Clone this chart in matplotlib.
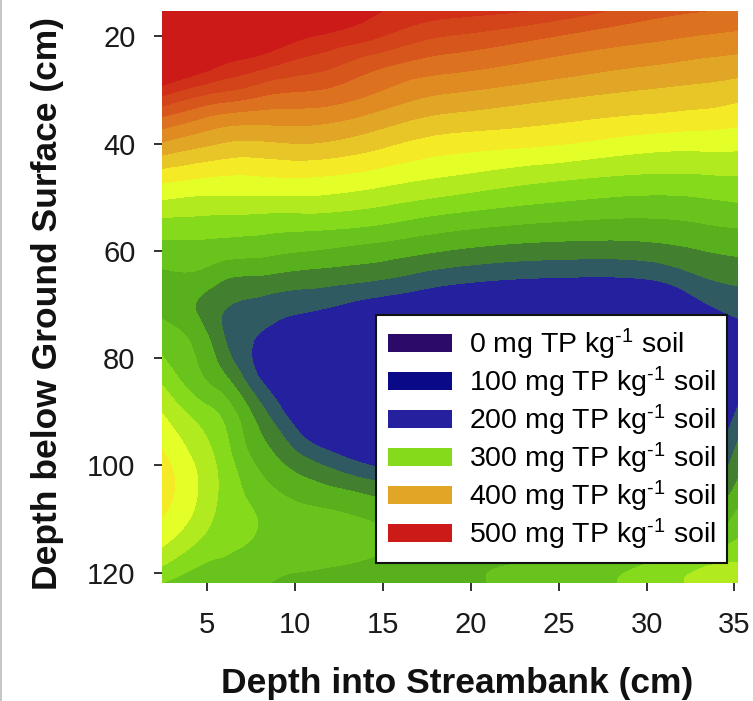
import numpy as np
import matplotlib
matplotlib.use("Agg")
import matplotlib.pyplot as plt
import matplotlib.tri as mtri
from matplotlib.lines import Line2D
from matplotlib.patches import Patch

plt.rcParams['font.family'] = ['Liberation Sans', 'DejaVu Sans']
plt.rcParams['mathtext.fontset'] = 'custom'
plt.rcParams['mathtext.rm'] = 'Liberation Sans'
plt.rcParams['mathtext.default'] = 'regular'

x_vals = [2.44, 5, 5.85, 7.44, 8.86, 11.25, 14.66, 18.8, 24.5, 30.2, 33, 35.2]
depth_vals = [15, 20, 25, 30, 35, 40, 45, 50, 55, 60, 65, 70, 75, 80, 85, 90, 95, 100, 105, 110, 115, 120, 122]

tp_vals = [
    [590, 585, 580, 570, 560, 545, 522, 510, 498, 470, 462, 458],
    [575, 560, 552, 545, 535, 519, 502, 479, 461, 445, 439, 435],
    [552, 531, 522, 513, 503, 490, 467, 450, 435, 422, 416, 412],
    [512, 488, 483, 474, 465, 460, 442, 423, 410, 399, 395, 390],
    [460, 440, 435, 431, 430, 429, 414, 396, 386, 377, 373, 368],
    [418, 403, 399, 396, 398, 399, 386, 370, 362, 349, 347, 346],
    [377, 368, 366, 365, 367, 367, 358, 345, 332, 323, 323, 324],
    [343, 338, 338, 338, 338, 338, 330, 318, 305, 298, 300, 304],
    [313, 312, 311, 310, 308, 307, 301, 288, 278, 275, 279, 283],
    [292, 291, 289, 287, 284, 279, 271, 259, 250, 251, 259, 264],
    [275, 271, 263, 258, 255, 250, 243, 228, 220, 222, 238, 245],
    [273, 252, 243, 236, 231, 225, 212, 200, 195, 195, 216, 229],
    [288, 259, 241, 224, 214, 200, 190, 180, 175, 180, 195, 212],
    [301, 270, 252, 222, 200, 180, 175, 165, 160, 165, 175, 205],
    [320, 282, 272, 237, 210, 178, 170, 160, 150, 155, 170, 210],
    [339, 306, 295, 261, 230, 190, 178, 165, 155, 160, 178, 223],
    [354, 320, 307, 273, 250, 212, 192, 175, 165, 170, 190, 239],
    [367, 329, 314, 285, 266, 243, 218, 195, 180, 190, 208, 253],
    [369, 331, 316, 296, 282, 269, 254, 225, 205, 215, 228, 268],
    [359, 325, 313, 303, 292, 287, 277, 255, 235, 245, 252, 287],
    [341, 311, 305, 298, 290, 290, 284, 268, 262, 275, 285, 306],
    [312, 292, 291, 286, 282, 278, 270, 271, 287, 309, 323, 327],
    [299, 285, 283, 282, 279, 273, 266, 270, 288, 311, 325, 330],
]

levels = [0, 220, 240, 260, 280, 300, 320, 340, 360, 380, 400, 420, 440, 460, 480, 500, 520, 700]
band_colors = ['#24209e', '#2f5a62', '#428030', '#58b01c', '#68c41c', '#86da1c', '#b2ea20',
               '#e4ff28', '#f4ea26', '#e8c628', '#e2a626', '#e08a22', '#dc7220',
               '#d6561c', '#d4441a', '#d03018', '#cc1a18']

legend_labels = ['0 mg TP kg$^{\\text{-1}}$ soil', '100 mg TP kg$^{\\text{-1}}$ soil',
                 '200 mg TP kg$^{\\text{-1}}$ soil', '300 mg TP kg$^{\\text{-1}}$ soil',
                 '400 mg TP kg$^{\\text{-1}}$ soil', '500 mg TP kg$^{\\text{-1}}$ soil']
legend_colors = ['#2c0a6a', '#0a0a88', '#24209e', '#86da1c', '#e2a626', '#cc1a18']

fig = plt.figure(figsize=(7.53, 7.01), dpi=100)
ax = fig.add_axes([162/753, 1-583/701, 576/753, 572/701])

# smooth the contours with matplotlib's own refiner
X, Y = np.meshgrid(x_vals, depth_vals)
triang = mtri.Triangulation(X.ravel(), Y.ravel())
refiner = mtri.UniformTriRefiner(triang)
fine_tri, fine_z = refiner.refine_field(np.array(tp_vals, dtype=float).ravel(), subdiv=3)
ax.tricontourf(fine_tri, np.clip(fine_z, 1, 699), levels=levels, colors=band_colors)
ax.set_xlim(2.44, 35.2)
ax.set_ylim(121.9, 15.3)

for s in ax.spines.values():
    s.set_visible(False)
ax.set_xticks([5, 10, 15, 20, 25, 30, 35])
ax.set_yticks([20, 40, 60, 80, 100, 120])
ax.tick_params(labelsize=21, length=6, width=1.3, color='#222222', labelcolor='#1a1a1a')
ax.tick_params(axis='x', pad=14)
ax.tick_params(axis='y', pad=13)
ax.set_xlabel('Depth into Streambank (cm)', fontsize=25.5, fontweight='bold', color='#111111')
ax.set_ylabel('Depth below Ground Surface (cm)', fontsize=25.5, fontweight='bold', color='#111111')
ax.xaxis.set_label_coords((457-162)/576, (583-683)/572, transform=ax.transAxes)
ax.yaxis.set_label_coords((48-162)/576, (583-304)/572, transform=ax.transAxes)
ax.xaxis.label.set_va('center')
ax.yaxis.label.set_va('center')

handles = [Patch(facecolor=c, edgecolor='none') for c in legend_colors]
leg = ax.legend(handles, legend_labels, loc='lower right', bbox_to_anchor=(727/753, 1-563/701),
                bbox_transform=fig.transFigure, fontsize=20.5, frameon=True, fancybox=False,
                framealpha=1, edgecolor='#111111', handlelength=2.25, handleheight=0.6,
                labelspacing=0.095, handletextpad=0.6, borderpad=0.4, borderaxespad=0)
leg.get_frame().set_linewidth(1.5)

# grey edge on the left of the page
fig.add_artist(Line2D([1/753, 1/753], [0, 1], color='#bbbbbb', lw=1.2, transform=fig.transFigure))

fig.savefig('out.png', dpi=100)
